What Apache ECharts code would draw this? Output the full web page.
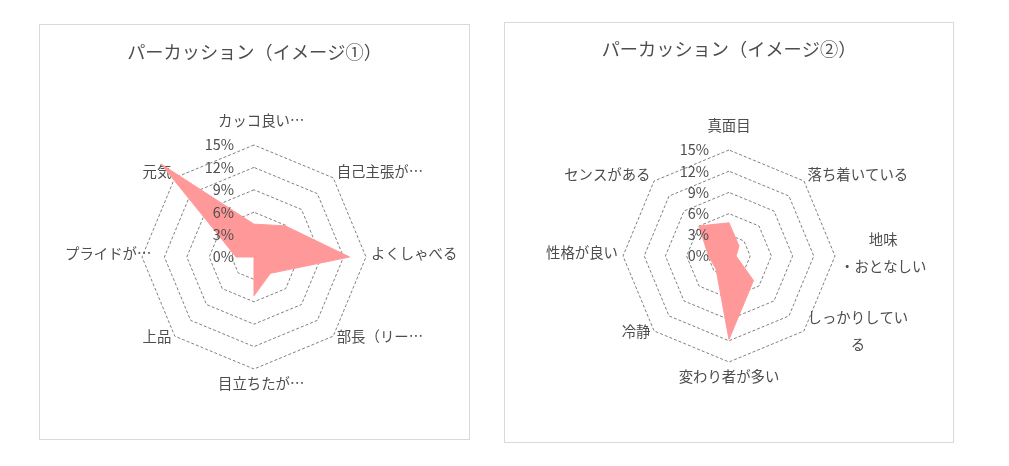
<!DOCTYPE html>
<html>
<head>
<meta charset="utf-8">
<script src="https://cdn.jsdelivr.net/npm/echarts@6/dist/echarts.min.js"></script>
<style>
body{margin:0;background:#fff;}
.box{position:absolute;border:1px solid #d9d9d9;box-sizing:border-box;}
#box1{left:39px;top:24px;width:431px;height:416px;}
#box2{left:504px;top:22px;width:450px;height:421px;}
.chart{width:100%;height:100%;}
</style>
</head>
<body>
<div class="box" id="box1"><div class="chart" id="chart1"></div></div>
<div class="box" id="box2"><div class="chart" id="chart2"></div></div>
<script>
// パーカッション レーダー 2枚
var FONT = '"Noto Sans CJK JP", "Noto Sans", sans-serif';
var TEXT_COLOR = '#4d4d4d';

var title1 = 'パーカッション（イメージ①）';
var names1 = ['カッコ良い…', '元気', 'プライドが…', '上品', '目立ちたが…', '部長（リー…', 'よくしゃべる', '自己主張が…'];
var values1 = [4.4, 17.6, 2.4, 0, 5.2, 3.1, 12.8, 5.9];

var title2 = 'パーカッション（イメージ②）';
var names2 = ['真面目', 'センスがある', '性格が良い', '冷静', '変わり者が多い', 'しっかりしてい\nる', '地味\n・おとなしい', '落ち着いている'];
var values2 = [4.7, 6.0, 2.9, 2.6, 11.8, 4.9, 1.0, 2.0];

var scaleMin = 0;
var scaleMax = 15;
var scaleSplit = 5; // 0%,3%,...,15%

function richStyle(extra) {
    var s = {color: TEXT_COLOR, fontSize: 14.4, fontFamily: FONT};
    for (var k in extra) { s[k] = extra[k]; }
    return s;
}

function makeIndicator(names, withLabel) {
    var indicator = [];
    for (var i = 0; i < names.length; i++) {
        var ind = {name: names[i], min: scaleMin, max: scaleMax};
        if (withLabel && i == 0) {
            ind.axisLabel = {show: true}; //目盛りは上の軸だけ
        }
        indicator.push(ind);
    }
    return indicator;
}

function buildOption(title, names, values, center, radius, titleTop) {
    return {
        animation: false,
        title: {
            text: title,
            left: 'center',
            top: titleTop,
            textStyle: {fontSize: 18.2, fontWeight: 'normal', color: TEXT_COLOR, fontFamily: FONT}
        },
        radar: [{
            // 枠線と項目名
            center: center,
            radius: radius,
            startAngle: 90,
            splitNumber: scaleSplit,
            shape: 'polygon',
            nameGap: 5,
            indicator: makeIndicator(names, false),
            axisName: {
                color: TEXT_COLOR,
                fontSize: 14.4,
                fontFamily: FONT,
                padding: [0, 0, 6, 0],
                formatter: function (name) {
                    var idx = names.indexOf(name);
                    if (name.indexOf('\n') >= 0) {
                        return name.split('\n').map(function (s) { return '{ml|' + s + '}'; }).join('\n');
                    }
                    var pos = idx == 0 ? 'top' : (idx == names.length / 2 ? 'bot' : 'mid');
                    var cut = name.charAt(name.length - 1) == '…' ? 'T' : '';
                    return '{' + pos + cut + '|' + name + '}';
                },
                rich: {
                    top: richStyle({lineHeight: 26}),
                    topT: richStyle({lineHeight: 26, width: 72, align: 'left'}),
                    bot: richStyle({lineHeight: 20}),
                    botT: richStyle({lineHeight: 20, width: 72, align: 'left'}),
                    mid: richStyle({lineHeight: 16}),
                    midT: richStyle({lineHeight: 16, width: 72, align: 'left'}),
                    ml: richStyle({lineHeight: 27, align: 'center'})
                }
            },
            axisLine: {show: false},
            axisTick: {show: false},
            axisLabel: {show: false},
            splitLine: {lineStyle: {color: '#808080', width: 1, type: [3, 2]}},
            splitArea: {show: false}
        }, {
            // 目盛りラベル（塗りの上に出す）
            z: 10,
            center: center,
            radius: radius,
            startAngle: 90,
            splitNumber: scaleSplit,
            shape: 'polygon',
            indicator: makeIndicator(names, true),
            axisName: {show: false},
            axisLine: {show: false},
            axisTick: {show: false},
            axisLabel: {
                show: false,
                color: TEXT_COLOR,
                fontSize: 14.4,
                fontFamily: FONT,
                margin: 20,
                formatter: '{value}%'
            },
            splitLine: {show: false},
            splitArea: {show: false}
        }],
        series: [{
            type: 'radar',
            radarIndex: 0,
            symbol: 'none',
            silent: true,
            lineStyle: {color: '#ff9999', width: 1},
            areaStyle: {color: '#ff9999', opacity: 1},
            data: [{value: values}]
        }]
    };
}

var chart1 = echarts.init(document.getElementById('chart1'));
chart1.setOption(buildOption(title1, names1, values1, [214, 232], 112, 13));
var chart2 = echarts.init(document.getElementById('chart2'));
chart2.setOption(buildOption(title2, names2, values2, [224, 233], 106, 12));
</script>
</body>
</html>
